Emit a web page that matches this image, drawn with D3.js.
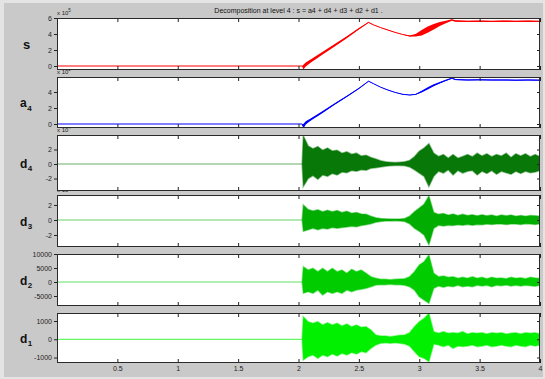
<!DOCTYPE html>
<html>
<head>
<meta charset="utf-8">
<script src="https://cdn.jsdelivr.net/npm/d3@7"></script>
<style>
	body { margin: 0; background: #e4e4e4; }
	svg { display: block; font-family: "Liberation Sans", Arial, sans-serif; }
</style>
</head>
<body>
<div id="chart"></div>
<script>
const title = "Decomposition at level 4 : s = a4 + d4 + d3 + d2 + d1 .";
const xTicks = [0.5, 1, 1.5, 2, 2.5, 3, 3.5, 4];

// y tick values per panel
const sTicks = [0, 2, 4, 6];
const aTicks = [0, 2, 4];
const d4Ticks = [-2, 0, 2];
const d3Ticks = [-2, 0, 2];
const d2Ticks = [-5000, 0, 5000, 10000];
const d1Ticks = [-1000, 0, 1000];

// s and a4 (x 10^5): trend value and the width of the noise around it
const trendTime = [0, 2.03, 2.04, 2.06, 2.1, 2.2, 2.3, 2.4, 2.5, 2.58, 2.62, 2.68, 2.74, 2.8, 2.86, 2.92, 2.97, 3.02, 3.07, 3.12, 3.17, 3.22, 3.27, 3.3, 3.4, 3.5, 3.6, 3.7, 3.8, 3.9, 4.0];
const sValue = [0, 0, -0.15, 0.2, 0.6, 1.6, 2.6, 3.6, 4.65, 5.45, 5.15, 4.8, 4.5, 4.2, 3.95, 3.75, 3.85, 4.15, 4.55, 4.9, 5.25, 5.5, 5.75, 5.62, 5.58, 5.6, 5.57, 5.6, 5.58, 5.6, 5.57];
const sSpread = [0, 0, 0.3, 0.25, 0.2, 0.17, 0.15, 0.12, 0.1, 0.05, 0.02, 0.02, 0.02, 0.02, 0.02, 0.05, 0.15, 0.35, 0.4, 0.35, 0.25, 0.15, 0.08, 0.1, 0.08, 0.1, 0.08, 0.1, 0.08, 0.1, 0.08];
const aValue = [0, 0, -0.3, 0.15, 0.55, 1.5, 2.5, 3.45, 4.45, 5.35, 5.05, 4.6, 4.25, 3.95, 3.72, 3.62, 3.7, 4.05, 4.45, 4.85, 5.15, 5.45, 5.72, 5.55, 5.5, 5.52, 5.5, 5.5, 5.48, 5.5, 5.48];
const aSpread = [0, 0, 0.3, 0.2, 0.15, 0.12, 0.1, 0.08, 0.06, 0.03, 0.02, 0.02, 0.02, 0.02, 0.02, 0.03, 0.05, 0.12, 0.15, 0.12, 0.1, 0.08, 0.05, 0.06, 0.06, 0.06, 0.06, 0.06, 0.06, 0.06, 0.06];

// details: upper / lower envelope, read every 0.04 s after the onset at 2.03
const bandTime = [0, 2.03, ...d3.range(2.04, 4.001, 0.04)];
const d4Upper = [0, 0,
	3.9, 2.5, 2.1, 2.4, 1.9, 2.2, 1.8, 1.9, 1.5, 1.7,
	1.35, 1.5, 1.1, 1.2, 0.9, 0.7, 0.45, 0.3, 0.25, 0.2,
	0.25, 0.3, 0.5, 1.0, 1.75, 2.2, 2.8, 1.5, 1.05, 1.3,
	0.8, 1.3, 0.8, 1.05, 1.3, 1.0, 1.5, 1.1, 1.4, 1.0,
	1.3, 1.1, 1.5, 0.9, 1.4, 1.1, 1.4, 1.0, 1.3, 1.0];
const d4Lower = [0, 0,
	-3.1, -2.0, -1.6, -2.1, -1.5, -1.7, -1.3, -1.5, -1.1, -1.2,
	-0.9, -1.0, -0.8, -0.85, -0.6, -0.5, -0.4, -0.3, -0.25, -0.2,
	-0.2, -0.25, -0.4, -0.8, -1.25, -1.7, -3.1, -1.7, -1.0, -1.25,
	-0.8, -1.5, -0.9, -1.25, -1.0, -0.9, -1.5, -1.0, -1.3, -0.9,
	-1.4, -1.0, -1.2, -1.4, -1.0, -1.3, -1.0, -1.2, -1.1, -0.9];
const d3Upper = [0, 0,
	2.0, 1.4, 1.2, 1.35, 1.1, 1.3, 1.1, 1.25, 1.0, 1.15,
	0.9, 1.0, 0.8, 0.75, 0.5, 0.3, 0.2, 0.15, 0.12, 0.12,
	0.12, 0.2, 0.5, 1.1, 1.6, 2.1, 3.2, 1.0, 0.75, 0.85,
	0.65, 0.8, 0.6, 0.75, 0.6, 0.7, 0.55, 0.7, 0.55, 0.65,
	0.5, 0.65, 0.55, 0.65, 0.5, 0.6, 0.5, 0.6, 0.55, 0.5];
const d3Lower = [0, 0,
	-1.5, -1.3, -1.1, -1.3, -1.1, -1.2, -1.0, -1.1, -1.0, -0.95,
	-0.85, -0.9, -0.75, -0.65, -0.5, -0.3, -0.2, -0.15, -0.12, -0.1,
	-0.12, -0.2, -0.5, -1.1, -1.5, -2.0, -3.3, -1.1, -0.7, -0.8,
	-0.7, -0.75, -0.65, -0.7, -0.6, -0.7, -0.6, -0.65, -0.55, -0.6,
	-0.55, -0.55, -0.6, -0.55, -0.55, -0.6, -0.5, -0.55, -0.6, -0.5];
const d2Upper = [0, 0,
	5470, 4280, 4880, 3690, 4880, 3690, 4880, 3690, 4280, 3100,
	4520, 3690, 4280, 3100, 1900, 1310, 950, 950, 830, 950,
	1070, 1190, 1900, 3690, 6070, 7260, 9640, 3100, 1900, 2140,
	1670, 1900, 1310, 1670, 1310, 1900, 1310, 1670, 1190, 1670,
	1310, 1430, 1190, 1670, 1310, 1550, 1190, 1670, 1430, 1310];
const d2Lower = [0, 0,
	-4050, -3450, -4050, -2860, -4640, -3450, -4050, -3450, -4050, -2860,
	-3450, -2860, -2620, -2260, -1670, -1070, -950, -950, -830, -950,
	-950, -1190, -1670, -2860, -5240, -6430, -7620, -2260, -1430, -1900,
	-1430, -1670, -1190, -1670, -1430, -1670, -1190, -1430, -1190, -1670,
	-1190, -1310, -1070, -1430, -1190, -1430, -1190, -1310, -1550, -1190];
const d1Upper = [0, 0,
	1236, 963, 872, 963, 781, 908, 781, 872, 726, 835,
	690, 781, 654, 690, 508, 235, 180, 180, 144, 180,
	217, 235, 362, 690, 963, 1145, 1418, 417, 326, 417,
	326, 362, 326, 417, 290, 362, 326, 362, 290, 362,
	326, 362, 290, 326, 362, 290, 362, 326, 362, 290];
const d1Lower = [0, 0,
	-1130, -948, -857, -1039, -857, -948, -803, -912, -766, -857,
	-730, -803, -675, -730, -493, -311, -220, -184, -220, -184,
	-220, -257, -366, -675, -948, -1039, -1221, -257, -311, -402,
	-311, -493, -366, -402, -366, -311, -402, -366, -311, -402,
	-366, -311, -366, -402, -311, -366, -402, -311, -366, -311];

const width = 545, height = 379;
const plotLeft = 57, plotRight = 540;

const panels = [
	{name: "s", sub: "", top: 18, bottom: 70, domain: [-0.5, 6], ticks: sTicks, exp: "5", color: "#ff0000", value: sValue, spread: sSpread},
	{name: "a", sub: "4", top: 77, bottom: 128, domain: [-0.5, 5.875], ticks: aTicks, exp: "5", color: "#0000ff", value: aValue, spread: aSpread},
	{name: "d", sub: "4", top: 135, bottom: 191, domain: [-3.72, 4], ticks: d4Ticks, exp: "4", color: "#087808", upper: d4Upper, lower: d4Lower},
	{name: "d", sub: "3", top: 195, bottom: 247, domain: [-3.6, 3.33], ticks: d3Ticks, exp: "4", color: "#00ad00", upper: d3Upper, lower: d3Lower},
	{name: "d", sub: "2", top: 254, bottom: 306, domain: [-8570, 10000], ticks: d2Ticks, exp: null, color: "#00cc00", upper: d2Upper, lower: d2Lower},
	{name: "d", sub: "1", top: 313, bottom: 363, domain: [-1300, 1440], ticks: d1Ticks, exp: null, color: "#00f000", upper: d1Upper, lower: d1Lower}
];

const svg = d3.select("#chart")
	.append("svg")
	.attr("width", width)
	.attr("height", height);

svg.append("rect")
	.attr("x", 4)
	.attr("y", 3)
	.attr("width", 539)
	.attr("height", 374)
	.attr("fill", "#c9c9c9");

const x = d3.scaleLinear().domain([0, 4]).range([plotLeft, plotRight]);

// draw bottom panel first so each upper panel hides the "x 10" label of the one below
panels.slice().reverse().forEach((p) => {
	const i = panels.indexOf(p);
	const h = p.bottom - p.top;
	const isLast = i === panels.length - 1;
	const y = d3.scaleLinear().domain(p.domain).range([h, 0]);
	const g = svg.append("g")
		.attr("transform", "translate(0," + p.top + ")");

	// exponent label
	if (p.exp) {
		const t = g.append("text")
			.attr("x", plotLeft)
			.attr("y", -3)
			.attr("font-size", 6)
			.attr("fill", "#222")
			.text("x 10");
		t.append("tspan")
			.attr("dy", -3)
			.attr("font-size", 4.5)
			.text(p.exp);
	}

	g.append("rect")
		.attr("x", plotLeft)
		.attr("y", 0)
		.attr("width", plotRight - plotLeft)
		.attr("height", h)
		.attr("fill", "#fff");

	g.append("clipPath")
		.attr("id", "clip" + i)
		.append("rect")
		.attr("x", plotLeft)
		.attr("width", plotRight - plotLeft)
		.attr("height", h);
	const plot = g.append("g").attr("clip-path", "url(#clip" + i + ")");

	if (p.value) {
		const pts = trendTime.map((t, k) => ({t: t, v: p.value[k], s: p.spread[k]}));
		plot.append("path")
			.datum(pts)
			.attr("d", d3.area()
				.x(d => x(d.t))
				.y0(d => y(d.v - d.s))
				.y1(d => y(d.v + d.s)))
			.attr("fill", p.color);
		plot.append("path")
			.datum(pts)
			.attr("d", d3.line().x(d => x(d.t)).y(d => y(d.v)))
			.attr("fill", "none")
			.attr("stroke", p.color)
			.attr("stroke-width", 1);
	} else {
		const pts = bandTime.map((t, k) => ({t: t, hi: p.upper[k], lo: p.lower[k]}));
		// flat zero line before the onset
		plot.append("path")
			.datum(pts.slice(0, 2))
			.attr("d", d3.line().x(d => x(d.t)).y(d => y(d.hi)))
			.attr("fill", "none")
			.attr("stroke", p.color)
			.attr("stroke-opacity", 0.6)
			.attr("stroke-width", 1.2);
		// noisy band, soft edge like the thin spikes of the original
		plot.append("path")
			.datum(pts.slice(1))
			.attr("d", d3.area()
				.x(d => x(d.t))
				.y0(d => y(d.lo))
				.y1(d => y(d.hi)))
			.attr("fill", p.color)
			.attr("stroke", p.color)
			.attr("stroke-opacity", 0.45)
			.attr("stroke-width", 1.5)
			.attr("stroke-linejoin", "miter");
	}

	// axes
	const styleAxis = (a) => {
		a.select(".domain").remove();
		a.attr("font-family", null).attr("font-size", 7);
		a.selectAll("line").attr("stroke", "#222");
		a.selectAll("text").attr("fill", "#222");
	};
	g.append("g")
		.attr("transform", "translate(" + plotLeft + ",0)")
		.call(d3.axisLeft(y).tickValues(p.ticks).tickSize(3).tickPadding(2).tickFormat(d => String(d)))
		.call(styleAxis);
	g.append("g")
		.attr("transform", "translate(" + plotRight + ",0)")
		.call(d3.axisRight(y).tickValues(p.ticks).tickSize(-3).tickFormat(""))
		.call(styleAxis);
	g.append("g")
		.call(d3.axisTop(x).tickValues(xTicks).tickSize(-4).tickFormat(""))
		.call(styleAxis);
	g.append("g")
		.attr("transform", "translate(0," + h + ")")
		.call(d3.axisBottom(x).tickValues(xTicks).tickSize(-4).tickPadding(3)
			.tickFormat(isLast ? (d => String(d)) : ""))
		.call(styleAxis);

	g.append("rect")
		.attr("x", plotLeft + 0.5)
		.attr("y", 0.5)
		.attr("width", plotRight - plotLeft - 1)
		.attr("height", h - 1)
		.attr("fill", "none")
		.attr("stroke", "#2a2a2a")
		.attr("stroke-width", 1);

	// panel name
	const label = g.append("text")
		.attr("x", p.sub ? 20 : 23)
		.attr("y", h / 2 + 4.5)
		.attr("font-size", p.sub ? 12 : 13)
		.attr("font-weight", "bold")
		.attr("fill", "#111")
		.text(p.name);
	if (p.sub) {
		label.append("tspan")
			.attr("dx", 0.5)
			.attr("dy", 3.5)
			.attr("font-size", 8)
			.text(p.sub);
	}
});

// Title
svg.append("text")
	.attr("x", (plotLeft + plotRight) / 2)
	.attr("y", 13)
	.attr("text-anchor", "middle")
	.attr("font-size", 7)
	.attr("fill", "#111")
	.text(title);
</script>
</body>
</html>
